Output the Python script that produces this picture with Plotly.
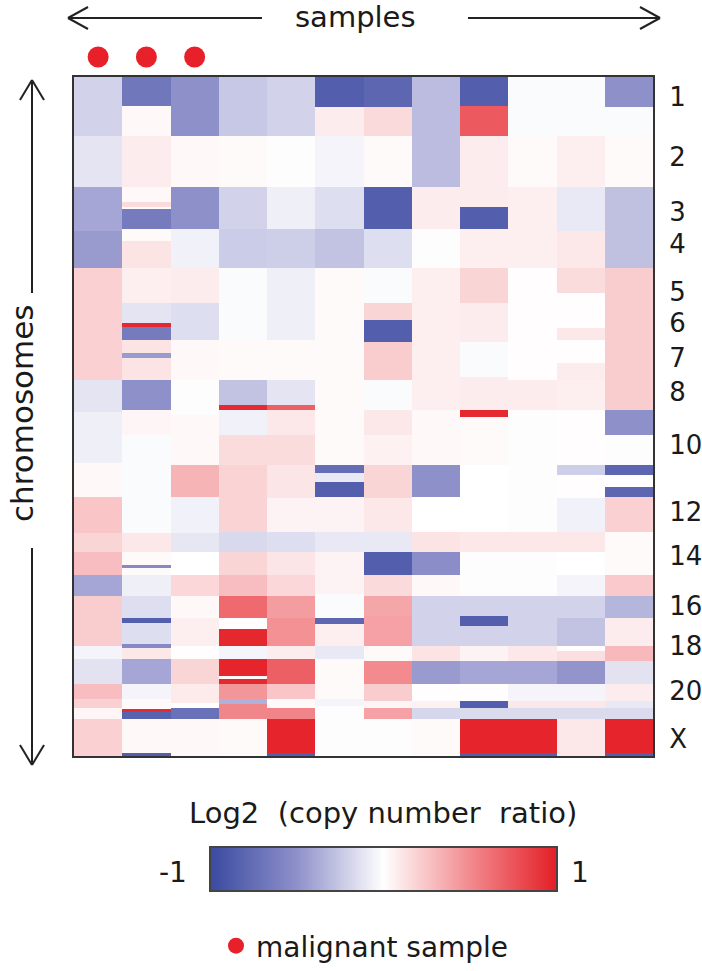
import plotly.graph_objects as go

# ---------------- data ----------------
# genome position axis: arbitrary units, 0 (top, chr1) .. 677 (bottom, chrX)
samples = [f"S{i}" for i in range(1, 13)]
malignant = [1, 1, 1, 0, 0, 0, 0, 0, 0, 0, 0, 0]

chrom_labels = ["1", "2", "3", "4", "5", "6", "7", "8", "10", "12", "14", "16", "18", "20", "X"]
chrom_label_pos = [20, 80, 134, 166, 214, 245, 280, 314, 367, 434, 477, 527, 567, 612, 660]

# segments per sample: (segment end position, log2 copy-number ratio)
s1 = [(59, -0.20), (110, -0.12), (154, -0.40), (190, -0.45), (302, 0.20), (334, -0.12), (385, -0.07),
      (419, 0.03), (455, 0.25), (474, 0.18), (497, 0.28), (517, -0.40), (567, 0.22), (580, -0.05),
      (605, -0.13), (620, 0.28), (629, 0.20), (640, 0.04), (677, 0.20)]
s2 = [(29, -0.68), (59, 0.03), (110, 0.08), (125, 0.03), (130, 0.15), (132, 0.02), (152, -0.65),
      (164, 0.02), (190, 0.12), (225, 0.07), (245, -0.12), (249, 0.95), (262, -0.65), (275, 0.12),
      (280, -0.45), (302, 0.12), (332, -0.50), (357, 0.04), (455, -0.02), (474, 0.10), (487, 0.02),
      (490, -0.55), (497, 0.02), (517, -0.07), (539, -0.15), (544, -0.85), (565, -0.15), (569, -0.55),
      (580, 0.10), (605, -0.40), (620, -0.05), (630, 0.02), (633, 0.95), (640, -0.82), (674, 0.03),
      (677, -0.85)]
s3 = [(59, -0.50), (110, 0.03), (152, -0.50), (190, -0.06), (225, 0.08), (262, -0.15), (302, 0.03),
      (337, -0.01), (387, 0.03), (419, 0.32), (455, -0.06), (474, -0.11), (497, 0.00), (517, 0.17),
      (539, 0.03), (567, 0.07), (580, 0.01), (605, 0.18), (624, 0.09), (629, 0.01), (640, -0.72),
      (677, 0.03)]
s4 = [(59, -0.25), (110, 0.02), (152, -0.20), (190, -0.23), (262, -0.02), (302, 0.02), (327, -0.27),
      (332, 0.95), (357, -0.06), (387, 0.15), (454, 0.19), (474, -0.17), (497, 0.18), (517, 0.28),
      (539, 0.65), (550, 0.01), (567, 0.96), (580, -0.05), (597, 0.97), (600, 0.03), (605, 0.95),
      (620, 0.45), (625, -0.35), (640, 0.52), (677, 0.02)]
s5 = [(59, -0.20), (110, -0.01), (152, -0.07), (190, -0.22), (262, -0.07), (302, 0.02), (327, -0.12),
      (332, 0.70), (357, 0.10), (387, 0.15), (420, 0.11), (454, 0.05), (474, -0.15), (497, 0.11),
      (517, 0.17), (539, 0.42), (567, 0.47), (580, 0.08), (605, 0.70), (620, 0.25), (629, 0.02),
      (640, 0.53), (674, 0.97), (677, -0.85)]
s6 = [(30, -0.85), (59, 0.08), (110, -0.05), (152, -0.15), (190, -0.27), (387, 0.02), (395, -0.75),
      (404, -0.10), (419, -0.85), (454, 0.05), (474, -0.10), (515, 0.05), (539, -0.02), (545, -0.80),
      (567, 0.07), (580, -0.10), (620, 0.02), (627, -0.05), (677, -0.01)]
s7 = [(30, -0.80), (59, 0.16), (110, 0.02), (152, -0.85), (190, -0.15), (225, -0.02), (242, 0.18),
      (264, -0.85), (302, 0.22), (332, -0.02), (357, 0.10), (387, 0.06), (420, 0.18), (454, 0.10),
      (474, -0.10), (497, -0.85), (517, 0.16), (537, 0.38), (567, 0.40), (582, 0.02), (605, 0.50),
      (622, 0.22), (629, 0.04), (640, 0.40), (677, -0.01)]
s8 = [(110, -0.30), (152, 0.08), (190, -0.01), (332, 0.07), (387, 0.03), (419, -0.50), (454, 0.00),
      (474, 0.12), (497, -0.52), (517, 0.03), (567, -0.20), (582, 0.12), (605, -0.45), (622, 0.01),
      (629, 0.06), (640, -0.18), (677, 0.02)]
s9 = [(29, -0.85), (59, 0.72), (130, 0.08), (152, -0.85), (190, 0.07), (225, 0.18), (264, 0.08),
      (299, -0.02), (332, 0.08), (339, 0.95), (387, 0.02), (454, 0.00), (474, 0.10), (517, -0.01),
      (537, -0.20), (547, -0.85), (567, -0.20), (582, 0.05), (605, -0.40), (622, 0.01), (629, -0.85),
      (640, -0.16), (674, 0.97), (677, -0.85)]
s10 = [(59, -0.02), (110, 0.02), (190, 0.07), (302, 0.01), (332, 0.08), (454, -0.01), (474, 0.10),
       (517, -0.01), (567, -0.20), (582, 0.10), (605, -0.40), (622, -0.05), (629, 0.10), (640, -0.16),
       (674, 0.97), (677, -0.85)]
s11 = [(59, -0.02), (110, 0.07), (154, -0.10), (190, 0.10), (215, 0.15), (250, 0.01), (262, 0.10),
       (285, 0.01), (302, 0.08), (332, 0.07), (387, 0.01), (397, -0.22), (420, 0.01), (454, -0.06),
       (474, 0.10), (497, 0.00), (517, -0.05), (539, -0.20), (567, -0.27), (572, 0.01), (582, 0.14),
       (605, -0.48), (622, -0.05), (629, 0.10), (640, -0.16), (677, 0.10)]
s12 = [(30, -0.50), (59, -0.02), (110, 0.02), (190, -0.28), (332, 0.22), (357, -0.50), (387, -0.01),
       (397, -0.80), (409, 0.00), (419, -0.80), (454, 0.20), (497, 0.02), (517, 0.23), (539, -0.33),
       (567, 0.08), (582, 0.30), (605, -0.13), (622, 0.08), (629, -0.10), (640, -0.16), (674, 0.97),
       (677, -0.85)]

segments = [s1, s2, s3, s4, s5, s6, s7, s8, s9, s10, s11, s12]

# ---------------- build matrix ----------------
edges = sorted({0} | {e for seg in segments for e, _ in seg})
z = []
for lo, hi in zip(edges[:-1], edges[1:]):
    mid = (lo + hi) / 2
    row = []
    for seg in segments:
        val = None
        for end, v in seg:
            if mid < end:
                val = v
                break
        row.append(val)
    z.append(row)

xs = list(range(1, len(samples) + 1))

W, H = 702, 971
def px(x):
    return x / W
def py(y):
    return 1 - y / H

colorscale = [[0.0, "#3A4AA0"], [0.25, "#8E90CA"], [0.5, "#FFFFFF"], [0.75, "#F28A8E"], [1.0, "#E41E26"]]

fig = go.Figure()
fig.add_trace(go.Heatmap(
    x=xs, y=edges, z=z, zmin=-1, zmax=1, colorscale=colorscale,
    showscale=True, hoverinfo="skip",
    colorbar=dict(orientation="h", x=px(383.5), xanchor="center", y=py(893), yanchor="bottom",
                  len=347, lenmode="pixels", thickness=44, outlinewidth=2, outlinecolor="#444",
                  showticklabels=False, ticks="", xpad=0, ypad=0),
))

mx = [x for x, m in zip(xs, malignant) if m]
fig.add_trace(go.Scatter(
    x=mx, y=[0.5] * len(mx), xaxis="x", yaxis="y2", mode="markers",
    marker=dict(color="#E8202A", size=21), name="malignant sample", showlegend=True,
    hoverinfo="skip",
))

font_family = "'DejaVu Sans', sans-serif"
tc = "#1a1a1a"

fig.update_layout(
    width=W, height=H, margin=dict(l=0, r=0, t=0, b=0),
    paper_bgcolor="white", plot_bgcolor="white",
    font=dict(family=font_family, color=tc, size=28),
    xaxis=dict(domain=[px(74), px(653)], range=[0.5, 12.5], showticklabels=False, ticks="",
               showgrid=False, zeroline=False, showline=True, mirror=True, linewidth=2, linecolor="#333"),
    yaxis=dict(domain=[py(756), py(77)], range=[677, 0], side="right", tickmode="array",
               tickvals=chrom_label_pos, ticktext=chrom_labels, ticks="", ticklabelstandoff=9,
               tickfont=dict(size=26, color=tc, family=font_family),
               showgrid=False, zeroline=False, showline=True, mirror=True, linewidth=2, linecolor="#333"),
    yaxis2=dict(domain=[py(68), py(46)], range=[0, 1], visible=False, anchor="x"),
    legend=dict(x=px(216), y=py(946), xanchor="left", yanchor="middle", orientation="h",
                font=dict(size=28, color=tc), bgcolor="rgba(0,0,0,0)", itemsizing="trace"),
    hovermode=False,
)

# arrows (open chevrons)
lw = dict(color="#222", width=2)
def line(x0, y0, x1, y1):
    fig.add_shape(type="line", xref="paper", yref="paper", x0=px(x0), y0=py(y0), x1=px(x1), y1=py(y1), line=lw)

# top: samples arrows
line(68, 18, 262, 18); line(68, 18, 88, 7); line(68, 18, 88, 29)
line(468, 18, 660, 18); line(660, 18, 640, 7); line(660, 18, 640, 29)
# left: chromosomes arrows
line(32, 80, 32, 293); line(32, 80, 20, 100); line(32, 80, 44, 100)
line(32, 548, 32, 765); line(32, 765, 20, 745); line(32, 765, 44, 745)

def text(x, y, s, size=28, angle=0):
    fig.add_annotation(xref="paper", yref="paper", x=px(x), y=py(y), text=s, showarrow=False,
                       xanchor="center", yanchor="middle", textangle=angle,
                       font=dict(size=size, color=tc, family=font_family))

text(355, 17, "samples", size=29)
text(22, 414, "chromosomes", size=31, angle=-90)
text(383, 813, "Log2&nbsp;&nbsp;(copy number&nbsp;&nbsp;ratio)", size=29)
text(173, 872, "-1", size=28)
text(580, 872, "1", size=28)

fig.write_html("out.html", config={"displayModeBar": False},
               post_script="document.body.style.margin='0';")
